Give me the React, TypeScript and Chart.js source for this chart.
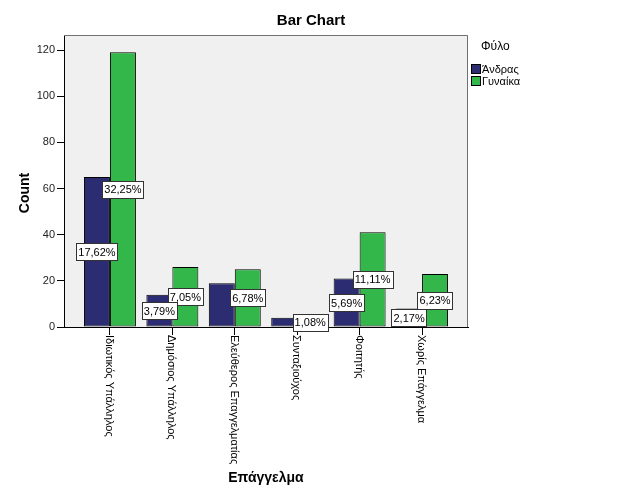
import React, { useEffect, useRef } from 'react';
import { Chart, registerables } from 'chart.js';

Chart.register(...registerables);

const categories = [
  'Ιδιωτικός Υπάλληλος',
  'Δημόσιος Υπάλληλος',
  'Ελεύθερος Επαγγελματίας',
  'Συνταξιούχος',
  'Φοιτητής',
  'Χωρίς Επάγγελμα',
];
const seriesNames = ['Άνδρας', 'Γυναίκα'];
const maleCounts = [65, 14, 19, 4, 21, 8];
const femaleCounts = [119, 26, 25, 0, 41, 23];
const malePct: (string | null)[] = ['17,62%', '3,79%', null, '1,08%', '5,69%', '2,17%'];
const femalePct: (string | null)[] = ['32,25%', '7,05%', '6,78%', null, '11,11%', '6,23%'];
const yTicks = [0, 20, 40, 60, 80, 100, 120];
const seriesColors = ['#2b2c72', '#33b64a'];

const FONT = "'Liberation Sans', Arial, sans-serif";

const decorPlugin = {
  id: 'decor',
  beforeDraw(chart: any) {
    const { ctx, chartArea: a } = chart;
    ctx.save();
    ctx.fillStyle = '#f0f0f0';
    ctx.fillRect(a.left, a.top, a.right - a.left, a.bottom - a.top);
    ctx.restore();
  },
  afterDatasetsDraw(chart: any) {
    const { ctx } = chart;
    const pcts = [malePct, femalePct];
    const values = [maleCounts, femaleCounts];
    ctx.save();
    ctx.font = `11px ${FONT}`;
    ctx.textAlign = 'center';
    ctx.textBaseline = 'middle';
    for (const d of [1, 0]) {
      const meta = chart.getDatasetMeta(d);
      meta.data.forEach((bar: any, i: number) => {
        const txt = pcts[d][i];
        if (!txt) return;
        const p = bar.getProps(['x', 'y', 'base', 'width'], true);
        let x = p.x;
        const other = values[1 - d][i];
        if (!other) x += d === 0 ? p.width : -p.width;
        const y = (p.y + p.base) / 2;
        const w = ctx.measureText(txt).width + 4;
        const h = 17;
        ctx.fillStyle = '#ffffff';
        ctx.fillRect(Math.round(x - w / 2) + 0.5, Math.round(y - h / 2) + 0.5, Math.round(w), h);
        ctx.strokeStyle = '#333333';
        ctx.lineWidth = 1;
        ctx.strokeRect(Math.round(x - w / 2) + 0.5, Math.round(y - h / 2) + 0.5, Math.round(w), h);
        ctx.fillStyle = '#000000';
        ctx.fillText(txt, x, y + 1);
      });
    }
    ctx.restore();
  },
  afterDraw(chart: any) {
    const { ctx, chartArea: a } = chart;
    const xs = chart.scales.x;
    ctx.save();
    // frame top/right
    ctx.strokeStyle = '#707070';
    ctx.lineWidth = 1;
    ctx.beginPath();
    ctx.moveTo(a.left, a.top + 0.5);
    ctx.lineTo(a.right - 0.5, a.top + 0.5);
    ctx.lineTo(a.right - 0.5, a.bottom);
    ctx.stroke();

    // category labels, rotated to read downward
    ctx.fillStyle = '#000000';
    ctx.font = `11px ${FONT}`;
    ctx.textAlign = 'left';
    ctx.textBaseline = 'middle';
    categories.forEach((c, i) => {
      const x = xs.getPixelForValue(i);
      ctx.save();
      ctx.translate(x - 1, a.bottom + 8);
      ctx.rotate(Math.PI / 2);
      ctx.fillText(c, 0, 0);
      ctx.restore();
    });

    // title
    ctx.font = `bold 15px ${FONT}`;
    ctx.textAlign = 'center';
    ctx.fillStyle = '#000000';
    ctx.fillText('Bar Chart', 311, 21);

    // x title
    ctx.font = `bold 14px ${FONT}`;
    ctx.fillText('Επάγγελμα', (a.left + a.right) / 2, 478);

    // y title
    ctx.save();
    ctx.translate(25, 193);
    ctx.rotate(-Math.PI / 2);
    ctx.fillText('Count', 0, 0);
    ctx.restore();

    // legend
    ctx.font = `12px ${FONT}`;
    ctx.textAlign = 'left';
    ctx.fillText('Φύλο', 481, 47);
    ctx.font = `11px ${FONT}`;
    seriesNames.forEach((n, i) => {
      const y = 64 + i * 12;
      ctx.fillStyle = seriesColors[i];
      ctx.fillRect(471.5, y + 0.5, 9, 9);
      ctx.strokeStyle = '#000000';
      ctx.strokeRect(471.5, y + 0.5, 9, 9);
      ctx.fillStyle = '#000000';
      ctx.fillText(n, 482, y + 5.5);
    });
    ctx.restore();
  },
};

export default function App() {
  const ref = useRef<HTMLCanvasElement | null>(null);
  useEffect(() => {
    document.body.style.margin = '0';
    document.body.style.overflow = 'hidden';
    const canvas = ref.current!;
    const chart = new Chart(canvas, {
      type: 'bar',
      data: {
        datasets: [maleCounts, femaleCounts].map((vals, d) => ({
          label: seriesNames[d],
          data: vals.map((v, i) => ({ x: i, y: v })),
          backgroundColor: seriesColors[d],
          borderColor: '#000000',
          borderWidth: 1,
          borderSkipped: false,
          categoryPercentage: 0.8325,
          barPercentage: 1,
        })),
      },
      options: {
        animation: false,
        responsive: false,
        devicePixelRatio: 1,
        layout: { padding: { left: 0, top: 35, right: 158, bottom: 166 } },
        plugins: { legend: { display: false }, title: { display: false }, tooltip: { enabled: false } },
        scales: {
          x: {
            type: 'linear',
            min: -0.736,
            max: 5.736,
            offset: false,
            afterBuildTicks: (s: any) => {
              s.ticks = categories.map((_, i) => ({ value: i }));
            },
            afterFit: (s: any) => {
              s.height = 8;
            },
            ticks: { display: false },
            grid: {
              display: true,
              offset: false,
              drawOnChartArea: false,
              drawTicks: true,
              tickLength: 8,
              color: '#000000',
            },
            border: { display: true, color: '#000000' },
          },
          y: {
            type: 'linear',
            min: 0,
            max: 126.5,
            afterBuildTicks: (s: any) => {
              s.ticks = yTicks.map((v) => ({ value: v }));
            },
            afterFit: (s: any) => {
              s.width = 64;
            },
            ticks: {
              color: '#222222',
              font: { family: FONT, size: 11 },
              padding: 2,
            },
            grid: {
              display: true,
              drawOnChartArea: false,
              drawTicks: true,
              tickLength: 7,
              color: '#000000',
            },
            border: { display: true, color: '#000000' },
          },
        },
      },
      plugins: [decorPlugin],
    } as any);
    return () => chart.destroy();
  }, []);
  return (
    <div style={{ width: 626, height: 501 }}>
      <canvas ref={ref} width={626} height={501} style={{ display: 'block' }} />
    </div>
  );
}
